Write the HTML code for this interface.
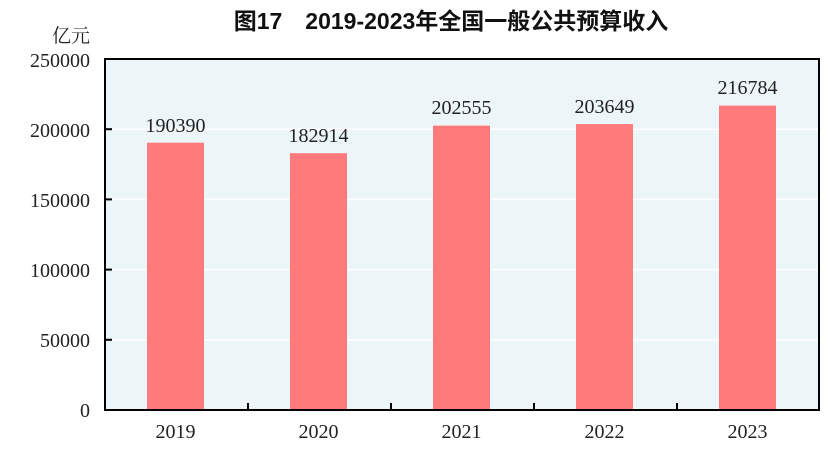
<!DOCTYPE html>
<html><head><meta charset="utf-8"><style>
body{margin:0;background:#fff;width:830px;height:463px;overflow:hidden}
</style></head><body>
<svg width="830" height="463" xmlns="http://www.w3.org/2000/svg">
<text x="451" y="29" text-anchor="middle" font-family="'Liberation Sans','Noto Sans CJK SC',sans-serif" font-size="23" font-weight="bold" fill="#111">图17　2019-2023年全国一般公共预算收入</text>
<text x="90" y="42" text-anchor="end" font-family="'Liberation Serif','Noto Serif CJK SC',serif" font-size="19" fill="#222">亿元</text>
<rect x="105" y="59" width="714" height="351" fill="#ecf5f8"/>
<g stroke="#fff" stroke-width="1.5">
<line x1="105" y1="129.2" x2="819" y2="129.2"/>
<line x1="105" y1="199.4" x2="819" y2="199.4"/>
<line x1="105" y1="269.6" x2="819" y2="269.6"/>
<line x1="105" y1="339.8" x2="819" y2="339.8"/>
</g>
<g fill="#ff7b7b">
<rect x="147" y="142.7" width="57" height="267.3"/>
<rect x="290" y="153.2" width="57" height="256.8"/>
<rect x="433" y="125.6" width="57" height="284.4"/>
<rect x="576" y="124.1" width="57" height="285.9"/>
<rect x="719" y="105.6" width="57" height="304.4"/>
</g>
<rect x="105" y="59" width="714" height="351" fill="none" stroke="#000" stroke-width="2"/>
<g stroke="#000" stroke-width="2">
<line x1="105" y1="129.2" x2="112" y2="129.2"/>
<line x1="105" y1="199.4" x2="112" y2="199.4"/>
<line x1="105" y1="269.6" x2="112" y2="269.6"/>
<line x1="105" y1="339.8" x2="112" y2="339.8"/>
<line x1="248" y1="410" x2="248" y2="403"/>
<line x1="391" y1="410" x2="391" y2="403"/>
<line x1="534" y1="410" x2="534" y2="403"/>
<line x1="677" y1="410" x2="677" y2="403"/>
</g>
<g font-family="'Liberation Serif',serif" font-size="20" fill="#222" text-anchor="end">
<text x="90" y="67">250000</text>
<text x="90" y="137">200000</text>
<text x="90" y="207">150000</text>
<text x="90" y="277">100000</text>
<text x="90" y="347">50000</text>
<text x="90" y="417">0</text>
</g>
<g font-family="'Liberation Serif',serif" font-size="20" fill="#222" text-anchor="middle">
<text x="175.5" y="132">190390</text>
<text x="318.5" y="142">182914</text>
<text x="461.5" y="114">202555</text>
<text x="604.5" y="113">203649</text>
<text x="747.5" y="94">216784</text>
<text x="175.5" y="438">2019</text>
<text x="318.5" y="438">2020</text>
<text x="461.5" y="438">2021</text>
<text x="604.5" y="438">2022</text>
<text x="747.5" y="438">2023</text>
</g>
</svg>
</body></html>
